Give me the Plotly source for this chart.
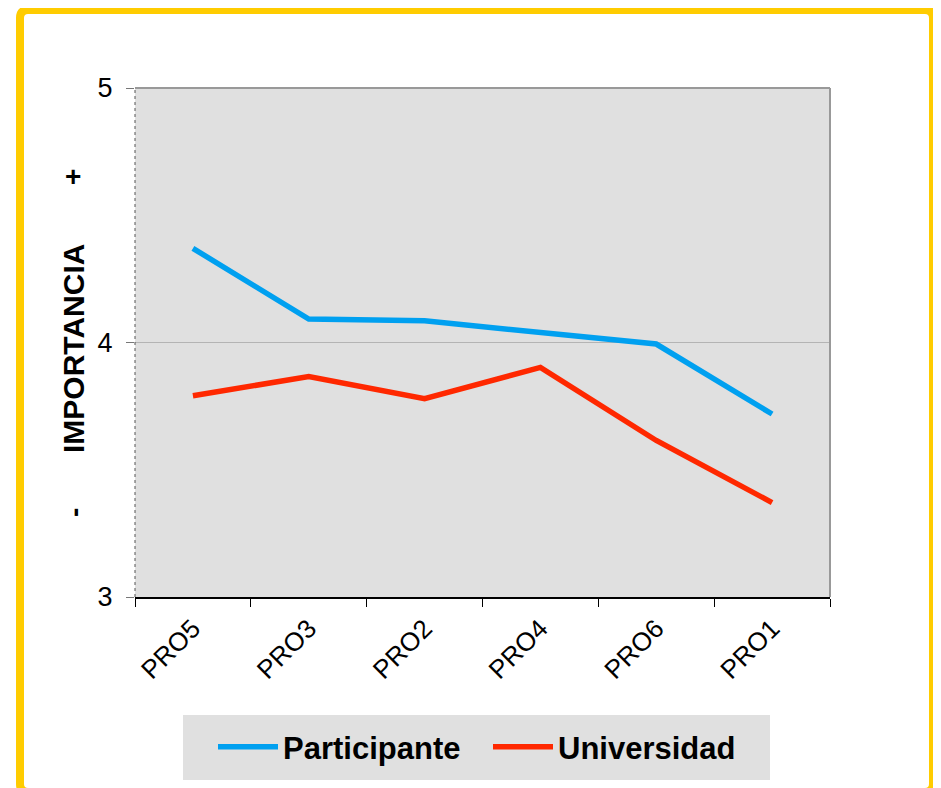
import plotly.graph_objects as go

categories = ["PRO5", "PRO3", "PRO2", "PRO4", "PRO6", "PRO1"]
participante = [4.370, 4.092, 4.085, 4.037, 3.994, 3.719]
universidad = [3.791, 3.866, 3.779, 3.902, 3.615, 3.371]
y_ticks = [3, 4, 5]

OFF = 8  # page body margin
W, H = 941 - OFF, 788 - OFF
# plot area in page pixels
L, R, T, B = 135, 830, 88, 597


def px(x):
    return (x - L) / (R - L)


def py(y):
    return (B - y) / (B - T)


fig = go.Figure()
fig.add_trace(go.Scatter(x=categories, y=participante, mode="lines", name="Participante",
                         line=dict(color="#00A0F0", width=5.5)))
fig.add_trace(go.Scatter(x=categories, y=universidad, mode="lines", name="Universidad",
                         line=dict(color="#FF2800", width=5.5)))

font_family = "Liberation Sans, Arial, sans-serif"

# yellow rounded frame
x0, x1, y0, y1 = px(20), px(933), py(792), py(10)
rx = 8 / (R - L)
ry = 8 / (B - T)
frame_path = (f"M{x0+rx},{y1} L{x1-rx},{y1} Q{x1},{y1} {x1},{y1-ry} "
              f"L{x1},{y0+ry} Q{x1},{y0} {x1-rx},{y0} "
              f"L{x0+rx},{y0} Q{x0},{y0} {x0},{y0+ry} "
              f"L{x0},{y1-ry} Q{x0},{y1} {x0+rx},{y1} Z")

shapes = [
    dict(type="path", xref="paper", yref="paper", path=frame_path,
         line=dict(color="#FFCC00", width=8), layer="below"),
    # legend box
    dict(type="rect", xref="paper", yref="paper", x0=px(183), x1=px(770), y0=py(780), y1=py(715),
         fillcolor="#E0E0E0", line=dict(width=0), layer="below"),
    # top and right border
    dict(type="line", xref="paper", yref="paper", x0=0, x1=1, y0=1, y1=1,
         line=dict(color="#999999", width=2)),
    dict(type="line", xref="paper", yref="paper", x0=1, x1=1, y0=0, y1=1,
         line=dict(color="#999999", width=2)),
    # left dotted axis
    dict(type="line", xref="paper", yref="paper", x0=0, x1=0, y0=0, y1=1,
         line=dict(color="#555555", width=1, dash="dot")),
]

bold = dict(family=font_family, size=28, color="black", weight="bold")
annotations = [
    dict(text="IMPORTANCIA", xref="paper", yref="paper", x=px(73), y=py(349), textangle=-90,
         showarrow=False, font=dict(family=font_family, size=30, color="black", weight="bold"),
         xanchor="center", yanchor="middle"),
    dict(text="+", xref="paper", yref="paper", x=px(72.5), y=py(176),
         showarrow=False, font=bold, xanchor="center", yanchor="middle"),
    dict(text="-", xref="paper", yref="paper", x=px(74), y=py(513), textangle=-90,
         showarrow=False, font=bold, xanchor="center", yanchor="middle"),
]

fig.update_layout(
    width=W, height=H,
    margin=dict(l=L - OFF, r=W - (R - OFF), t=T - OFF, b=H - (B - OFF), autoexpand=False),
    paper_bgcolor="white",
    plot_bgcolor="#E0E0E0",
    font=dict(family=font_family, color="black"),
    showlegend=True,
    legend=dict(orientation="h", x=px(213), xanchor="left", y=py(747), yanchor="middle",
                bgcolor="rgba(0,0,0,0)",
                font=dict(family=font_family, size=31, color="black", weight="bold"),
                itemwidth=60, entrywidth=200, entrywidthmode="pixels"),
    shapes=shapes,
    annotations=annotations,
    xaxis=dict(type="category", range=[-0.5, 5.5], tickson="boundaries", ticks="outside",
               ticklen=8, tickwidth=1, tickcolor="black", showgrid=False,
               showline=True, linecolor="black", linewidth=2, tickangle=-45,
               ticklabelstandoff=4,
               tickfont=dict(family=font_family, size=26, color="black"), zeroline=False),
    yaxis=dict(range=[3, 5], tickvals=y_ticks, ticks="outside", ticklen=8, tickwidth=1,
               tickcolor="#777777", showgrid=True, gridcolor="#B4B4B4", gridwidth=1,
               showline=False, zeroline=False, ticklabelstandoff=8,
               tickfont=dict(family=font_family, size=27, color="black")),
)

fig.write_html("out.html")
